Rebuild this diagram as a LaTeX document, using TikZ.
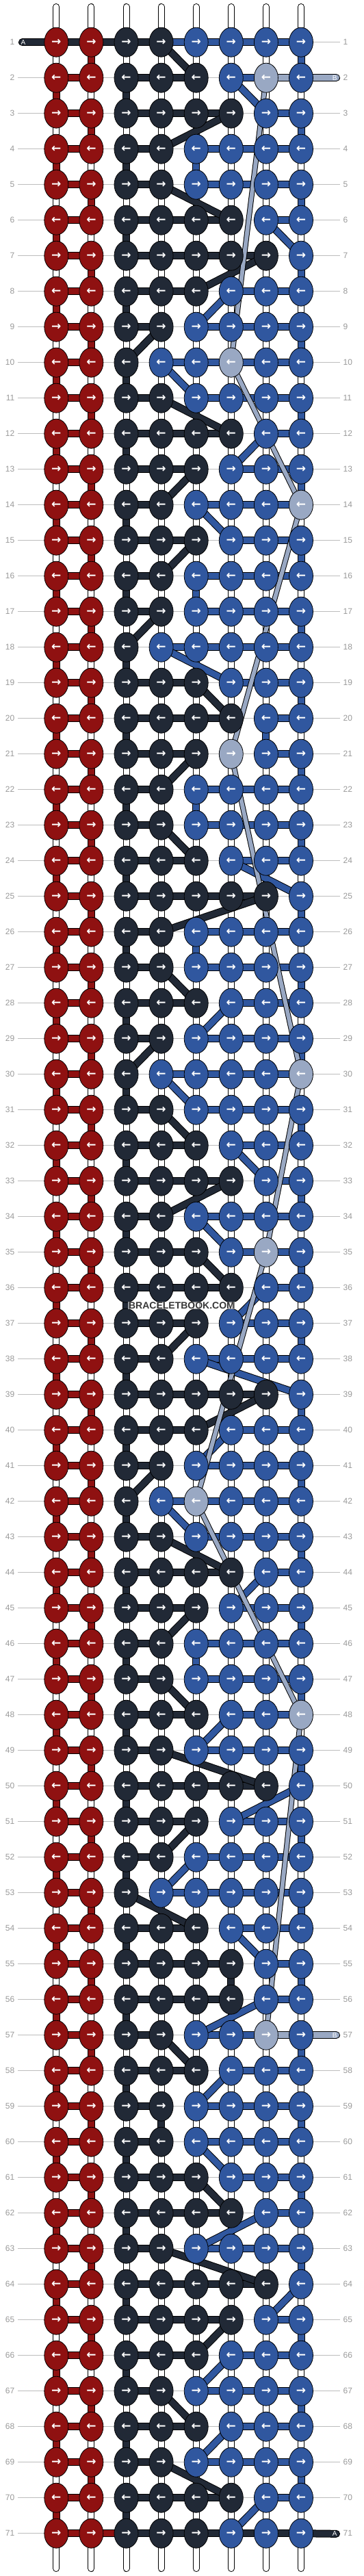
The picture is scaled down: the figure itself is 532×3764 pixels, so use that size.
\documentclass[tikz,border=0pt]{standalone}
\usepackage{fontspec}
\setmainfont{Liberation Sans}
\newfontfamily\arrowfont{DejaVu Sans}
\usetikzlibrary{shapes.geometric}
\definecolor{kred}{HTML}{8F1111}
\definecolor{kdark}{HTML}{212936}
\definecolor{kblue}{HTML}{30579F}
\definecolor{klight}{HTML}{99A8C3}
\definecolor{kgrid}{HTML}{BDBDBD}
\definecolor{klabel}{HTML}{9A9A9A}
\newcommand\kconn[3]{\draw[line width=11pt,black] (#2) -- (#3);\draw[line width=9pt,#1] (#2) -- (#3);}
\newcommand\kthin[2]{\draw[line width=8pt,black] (#1) -- (#2);\draw[line width=6pt,klight] (#1) -- (#2);}
\newcommand\kstrip[3]{\draw[line width=11pt,black,line cap=round] (#2) -- (#3);\draw[line width=9pt,#1,line cap=round] (#2) -- (#3);}
\def\rowdata{1/4/5/0,2/5/6/7,3/6/7/0,4/4/5/0,5/4/5/0,6/6/7/0,7/7/8/0,8/5/6/0,9/4/5/0,10/3/4/6,11/4/5/0,12/6/7/0,13/5/6/0,14/4/5/8,15/5/6/0,16/4/5/0,17/4/5/0,18/3/4/0,19/5/6/0,20/6/7/0,21/5/7/6,22/4/5/0,23/4/5/0,24/5/6/0,25/7/8/0,26/4/5/0,27/4/5/0,28/5/6/0,29/4/5/0,30/3/4/8,31/4/5/0,32/5/6/0,33/6/7/0,34/4/5/0,35/5/6/7,36/6/7/0,37/5/6/0,38/4/5/0,39/7/8/0,40/5/6/0,41/4/5/0,42/3/4/5,43/4/5/0,44/6/7/0,45/5/6/0,46/4/5/0,47/4/5/0,48/5/6/8,49/4/5/0,50/7/8/0,51/5/6/0,52/4/5/0,53/3/4/0,54/5/6/0,55/6/7/0,56/6/7/0,57/4/5/7,58/5/6/0,59/4/5/0,60/4/5/0,61/5/6/0,62/6/7/0,63/4/5/0,64/7/8/0,65/6/7/0,66/5/6/0,67/4/5/0,68/5/6/0,69/4/5/0,70/6/7/0,71/5/6/0}
\begin{document}
\begin{tikzpicture}[x=1pt,y=-1pt,
  knot/.style={ellipse,draw=black,line width=0.8pt,minimum width=35pt,minimum height=43pt,inner sep=0pt,text=white,font=\arrowfont\bfseries\fontsize{17}{17}\selectfont},
  gridline/.style={kgrid,line width=1pt},
  rowlab/.style={text=klabel,font=\fontsize{12}{12}\selectfont,inner sep=0pt},
  endlab/.style={text=white,font=\fontsize{10}{10}\selectfont,inner sep=0pt},
  wmark/.style={text=black!78,fill=white,fill opacity=0.55,text opacity=1,font=\bfseries\fontsize{14}{14}\selectfont,inner sep=1pt}]
\fill[white] (0,0) rectangle (532,3764);
\useasboundingbox (0,0) rectangle (532,3764);
% data
\foreach \r/\d/\b/\l in \rowdata {%
  \expandafter\xdef\csname kd\r\endcsname{\d}%
  \expandafter\xdef\csname kb\r\endcsname{\b}%
  \expandafter\xdef\csname kl\r\endcsname{\l}}
% coordinates
\foreach \r in {1,...,71}{\foreach \c in {1,...,8}{\coordinate (p-\r-\c) at ({82.3+51.1*(\c-1)},{61.7+52*(\r-1)});}}
% grid lines and row labels
\foreach \r in {1,...,71}{
  \coordinate (gl-\r) at (26,{61.7+52*(\r-1)});
  \coordinate (gr-\r) at (497,{61.7+52*(\r-1)});
  \draw[gridline] (gl-\r) -- (gr-\r);
  \node[rowlab,anchor=east] (ll-\r) at (21.5,{61.7+52*(\r-1)}) {\r};
  \node[rowlab,anchor=west] (lr-\r) at (501.5,{61.7+52*(\r-1)}) {\r};
}
% white strings
\foreach \c in {1,...,8}{
  \coordinate (st-\c) at ({82.3+51.1*(\c-1)},10);
  \coordinate (sb-\c) at ({82.3+51.1*(\c-1)},3753);
  \draw[black,line width=10pt,line cap=round] (st-\c) -- (sb-\c);
  \draw[white,line width=8pt,line cap=round] (st-\c) -- (sb-\c);
}
% horizontal bars
\foreach \r in {1,...,71}{
  \edef\kdd{\csname kd\r\endcsname}\edef\kbb{\csname kb\r\endcsname}
  \ifnum\r>1 \kconn{kred}{p-\r-1}{p-\r-2}\fi
  \ifnum\kdd>3 \foreach \c in {4,...,\kdd}{\pgfmathtruncatemacro\cp{\c-1}\kconn{kdark}{p-\r-\cp}{p-\r-\c}}\fi
  \ifnum\kbb<8 \foreach \c in {\kbb,...,7}{\pgfmathtruncatemacro\cn{\c+1}\kconn{kblue}{p-\r-\c}{p-\r-\cn}}\fi
}
% vertical and diagonal connections
\foreach \r in {1,...,70}{
  \pgfmathtruncatemacro\rn{\r+1}
  \edef\kdd{\csname kd\r\endcsname}\edef\kbb{\csname kb\r\endcsname}
  \edef\kddn{\csname kd\rn\endcsname}\edef\kbbn{\csname kb\rn\endcsname}
  \ifodd\r
    \kconn{kred}{p-\r-2}{p-\rn-2}
    \kconn{kdark}{p-\r-\kdd}{p-\rn-\kddn}
    \kconn{kblue}{p-\r-8}{p-\rn-8}
  \else
    \kconn{kred}{p-\r-1}{p-\rn-1}
    \kconn{kdark}{p-\r-3}{p-\rn-3}
    \kconn{kblue}{p-\r-\kbb}{p-\rn-\kbbn}
  \fi
}
% special first row: string A
\coordinate (aL) at (32.5,61.7);
\kstrip{kdark}{aL}{p-1-1}
\kconn{kdark}{p-1-1}{p-1-2}
\kconn{kdark}{p-1-2}{p-1-3}
\kconn{kdark}{p-1-3}{p-1-4}
\kconn{kblue}{p-1-4}{p-1-5}
% special last row
\coordinate (aR) at (491.5,3702.3);
\kconn{kred}{p-71-2}{p-71-3}
\kconn{kdark}{p-71-5}{p-71-6}
\kconn{kdark}{p-71-6}{p-71-7}
\kconn{kdark}{p-71-7}{p-71-8}
\kstrip{kdark}{p-71-8}{aR}
% string B
\coordinate (bR1) at (491.5,113.7);
\coordinate (bR2) at (491.5,2973.7);
\kstrip{klight}{p-2-8}{bR1}
\kconn{klight}{p-2-7}{p-2-8}
\kstrip{klight}{p-57-8}{bR2}
\kconn{klight}{p-57-7}{p-57-8}
\kthin{p-2-7}{p-10-6}
\kthin{p-10-6}{p-14-8}
\kthin{p-14-8}{p-21-6}
\kthin{p-21-6}{p-30-8}
\kthin{p-30-8}{p-35-7}
\kthin{p-35-7}{p-42-5}
\kthin{p-42-5}{p-48-8}
\kthin{p-48-8}{p-57-7}
% knots
\foreach \r in {1,...,71}{
  \edef\kdd{\csname kd\r\endcsname}\edef\kll{\csname kl\r\endcsname}
  \ifodd\r \def\karr{→}\else\def\karr{←}\fi
  \foreach \c in {1,...,8}{
    \ifnum\c<3 \def\kc{kred}\else
      \ifnum\c>\kdd \ifnum\c=\kll \def\kc{klight}\else\def\kc{kblue}\fi\else\def\kc{kdark}\fi
    \fi
    \node[knot,fill=\kc] (k-\r-\c) at (p-\r-\c) {\karr};
  }
}
% end labels
\node[endlab] (la) at (34,61.7) {A};
\node[endlab] (lb1) at (489.3,113.7) {B};
\node[endlab] (lb2) at (489.3,2973.7) {B};
\node[endlab] (la2) at (489.3,3702.3) {A};
% watermark
\node[wmark] (wm) at (265.5,1907.5) {BRACELETBOOK.COM};
\end{tikzpicture}
\end{document}
